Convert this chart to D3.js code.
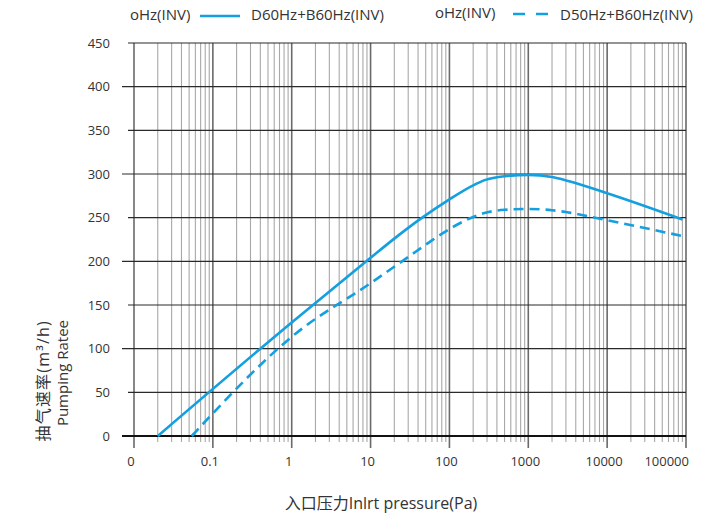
<!DOCTYPE html>
<html><head><meta charset="utf-8">
<script src="https://cdn.jsdelivr.net/npm/d3@7/dist/d3.min.js"></script>
<style>
body{margin:0;background:#fff}
svg text{font-family:"Open Sans","Noto Sans CJK SC",sans-serif;fill:#333}
</style>
</head><body>
<svg id="c" width="726" height="519"></svg>
<script>
// ---- data ----
const xTickValues = [0.01, 0.1, 1, 10, 100, 1000, 10000, 100000];
const xTickLabels = ["0", "0.1", "1", "10", "100", "1000", "10000", "100000"];
const yTickValues = [0, 50, 100, 150, 200, 250, 300, 350, 400, 450];

const solidPressure = [0.02, 1, 10, 20, 42, 100, 200, 280, 500, 1000, 2000, 3200, 10000, 90000];
const solidRate     = [0, 130, 204, 226, 248, 271, 287, 293, 297.5, 299, 296.5, 292, 278, 248];

const dashedPressure = [0.054, 1.15, 10, 30, 60, 100, 180, 270, 500, 1000, 2000, 3000, 10000, 90000];
const dashedRate     = [0, 118, 175, 205, 224, 237, 249, 255, 259, 260, 258.5, 256.5, 247, 229];

const legendPrefix = ["oHz(INV)", "oHz(INV)"];
const legendNames  = ["D60Hz+B60Hz(INV)", "D50Hz+B60Hz(INV)"];

const yTitle = ["抽气速率(m³/h)", "Pumping Ratee"];
const xTitle = "入口压力Inlrt pressure(Pa)";

// ---- drawing ----
const svg = d3.select("#c");
const blue = "#139fe0";
const x = d3.scaleLog().domain([0.01, 100000]).range([134, 686]);
const y = d3.scaleLinear().domain([0, 450]).range([436, 43]);

// vertical grid
const allX = x.ticks();
const isMajor = v => xTickValues.some(t => Math.abs(t - v) / t < 1e-6);
svg.append("g").selectAll("line").data(allX).join("line")
  .attr("x1", d => x(d)).attr("x2", d => x(d))
  .attr("y1", 43).attr("y2", d => isMajor(d) ? 448 : 442)
  .attr("stroke", d => isMajor(d) ? "#6a6a6a" : "#a8a8a8")
  .attr("stroke-width", d => isMajor(d) ? 1.6 : 1.1);

// horizontal grid
svg.append("g").selectAll("line").data(yTickValues).join("line")
  .attr("x1", d => (d % 100 === 0) ? 122 : 128).attr("x2", 686)
  .attr("y1", d => y(d)).attr("y2", d => y(d))
  .attr("stroke", d => d === 0 ? "#111" : "#2a2a2a")
  .attr("stroke-width", d => d === 0 ? 2 : 1.2);

// y labels
svg.append("g").selectAll("text").data(yTickValues).join("text")
  .attr("x", 110).attr("y", d => y(d) + 4.5)
  .attr("text-anchor", "end").attr("font-size", 13)
  .text(d => d);

// x labels
svg.append("g").selectAll("text").data(xTickValues).join("text")
  .attr("x", (d, i) => i === xTickValues.length - 1 ? x(d) + 3 : x(d) - 3)
  .attr("y", 466)
  .attr("text-anchor", (d, i) => i === xTickValues.length - 1 ? "end" : "middle")
  .attr("font-size", 13)
  .text((d, i) => xTickLabels[i]);

// curves
const line = d3.line().x(d => x(d[0])).y(d => y(d[1])).curve(d3.curveMonotoneX);
svg.append("path").datum(solidPressure.map((p, i) => [p, solidRate[i]]))
  .attr("d", line).attr("fill", "none").attr("stroke", blue).attr("stroke-width", 2.6);
svg.append("path").datum(dashedPressure.map((p, i) => [p, dashedRate[i]]))
  .attr("d", line).attr("fill", "none").attr("stroke", blue).attr("stroke-width", 2.6)
  .attr("stroke-dasharray", "10,6");

// legend
const lg = svg.append("g");
lg.append("text").attr("x", 130).attr("y", 20).attr("font-size", 15).text(legendPrefix[0]);
lg.append("line").attr("x1", 200).attr("x2", 240).attr("y1", 16).attr("y2", 16)
  .attr("stroke", blue).attr("stroke-width", 2.6);
lg.append("text").attr("x", 251).attr("y", 20).attr("font-size", 15).text(legendNames[0]);
lg.append("text").attr("x", 435).attr("y", 18).attr("font-size", 15).text(legendPrefix[1]);
lg.append("line").attr("x1", 513).attr("x2", 551).attr("y1", 14).attr("y2", 14)
  .attr("stroke", blue).attr("stroke-width", 2.6).attr("stroke-dasharray", "12,11");
lg.append("text").attr("x", 560).attr("y", 20).attr("font-size", 15).text(legendNames[1]);

// titles
svg.append("text").attr("transform", "translate(49,320) rotate(-90)")
  .attr("text-anchor", "end").attr("font-size", 16).attr("letter-spacing", 1.2).text(yTitle[0]);
svg.append("text").attr("transform", "translate(68,320) rotate(-90)")
  .attr("text-anchor", "end").attr("font-size", 15).text(yTitle[1]);
svg.append("text").attr("x", 381).attr("y", 509).attr("text-anchor", "middle")
  .attr("font-size", 16).text(xTitle);
</script>
</body></html>
